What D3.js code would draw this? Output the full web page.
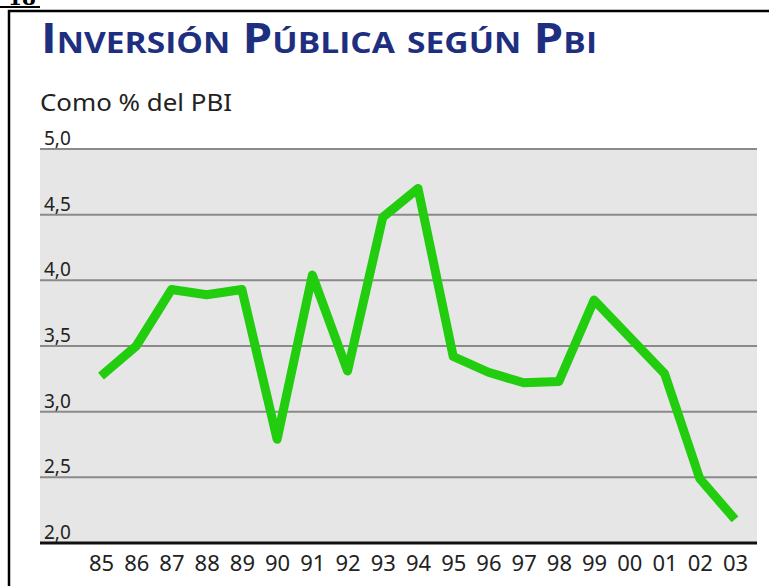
<!DOCTYPE html>
<html>
<head>
<meta charset="utf-8">
<script src="https://cdn.jsdelivr.net/npm/d3@7"></script>
<style>
  body { margin: 0; background: #fff; }
  svg { display: block; }
</style>
</head>
<body>
<div id="chart"></div>
<script>
// data
var years = ["85", "86", "87", "88", "89", "90", "91", "92", "93", "94",
             "95", "96", "97", "98", "99", "00", "01", "02", "03"];
var inversion = [3.27, 3.50, 3.93, 3.89, 3.93, 2.79, 4.04, 3.31, 4.48, 4.70,
                 3.42, 3.30, 3.22, 3.23, 3.85, 3.57, 3.29, 2.49, 2.18];
var yTicks = [2.0, 2.5, 3.0, 3.5, 4.0, 4.5, 5.0];

var W = 769, H = 586;
var plot = {left: 40, right: 757, top: 149, bottom: 543};

var svg = d3.select("#chart").append("svg")
   .attr("width", W)
   .attr("height", H);

//page number cut at the top, with its rule
svg.append("text")
   .text("18")
   .attr("x", 8)
   .attr("y", 5)
   .style("font-family", "DejaVu Serif, serif")
   .style("font-weight", "bold")
   .style("font-size", "20px")
   .style("fill", "#000");
svg.append("line")
   .attr("x1", 0).attr("x2", 40)
   .attr("y1", 7).attr("y2", 7)
   .style("stroke", "#000").style("stroke-width", 2);

//frame: top and left border
svg.append("path")
   .attr("d", "M9," + H + "V11H" + W)
   .style("fill", "none")
   .style("stroke", "#000")
   .style("stroke-width", 2.5);

//title in small caps
svg.append("text")
   .text("Inversión Pública según Pbi")
   .attr("x", 41)
   .attr("y", 53)
   .attr("textLength", 556)
   .attr("lengthAdjust", "spacingAndGlyphs")
   .style("font-family", "'Open Sans', sans-serif")
   .style("font-weight", "bold")
   .style("font-variant", "small-caps")
   .style("font-size", "41px")
   .style("fill", "#1f2f7f");

svg.append("text")
   .text("Como % del PBI")
   .attr("x", 40)
   .attr("y", 111)
   .attr("textLength", 192)
   .attr("lengthAdjust", "spacingAndGlyphs")
   .style("font-family", "'Noto Sans', sans-serif")
   .style("font-size", "23px")
   .style("fill", "#222");

var x = d3.scalePoint()
   .domain(years)
   .range([101, 735]);

var y = d3.scaleLinear()
   .domain([2, 5])
   .range([plot.bottom, plot.top]);

//grey plot background
svg.append("rect")
   .attr("x", plot.left)
   .attr("y", y(5))
   .attr("width", plot.right - plot.left)
   .attr("height", y(2) - y(5))
   .style("fill", "#e6e6e6");

//gridlines, the 2,0 one is the dark base line
svg.selectAll(".grid")
   .data(yTicks)
   .enter().append("line")
   .attr("class", "grid")
   .attr("x1", plot.left)
   .attr("x2", plot.right)
   .attr("y1", function(d) { return y(d); })
   .attr("y2", function(d) { return y(d); })
   .style("stroke", function(d) { return d == 2 ? "#111" : "#8a8a8a"; })
   .style("stroke-width", function(d) { return d == 2 ? 3 : 2; });

//y labels sit above their lines
svg.selectAll(".ylab")
   .data(yTicks)
   .enter().append("text")
   .attr("class", "ylab")
   .text(function(d) { return d3.format(".1f")(d).replace(".", ","); })
   .attr("x", 44)
   .attr("y", function(d) { return y(d) - 4; })
   .style("font-family", "'Noto Sans', sans-serif")
   .style("font-size", "19px")
   .style("fill", "#222");

//x axis labels
var xAxis = d3.axisBottom(x).tickSize(0).tickPadding(12);
var gx = svg.append("g")
   .attr("transform", "translate(0," + plot.bottom + ")")
   .call(xAxis);
gx.select(".domain").remove();
gx.selectAll("text")
   .style("font-family", "'Noto Sans', sans-serif")
   .style("font-size", "22px")
   .style("fill", "#222");

var line = d3.line()
   .x(function(d, i) { return x(years[i]); })
   .y(function(d) { return y(d); });

svg.append("path")
   .datum(inversion)
   .attr("d", line)
   .style("fill", "none")
   .style("stroke", "#22cc0e")
   .style("stroke-width", 9)
   .style("stroke-linejoin", "round");
</script>
</body>
</html>
